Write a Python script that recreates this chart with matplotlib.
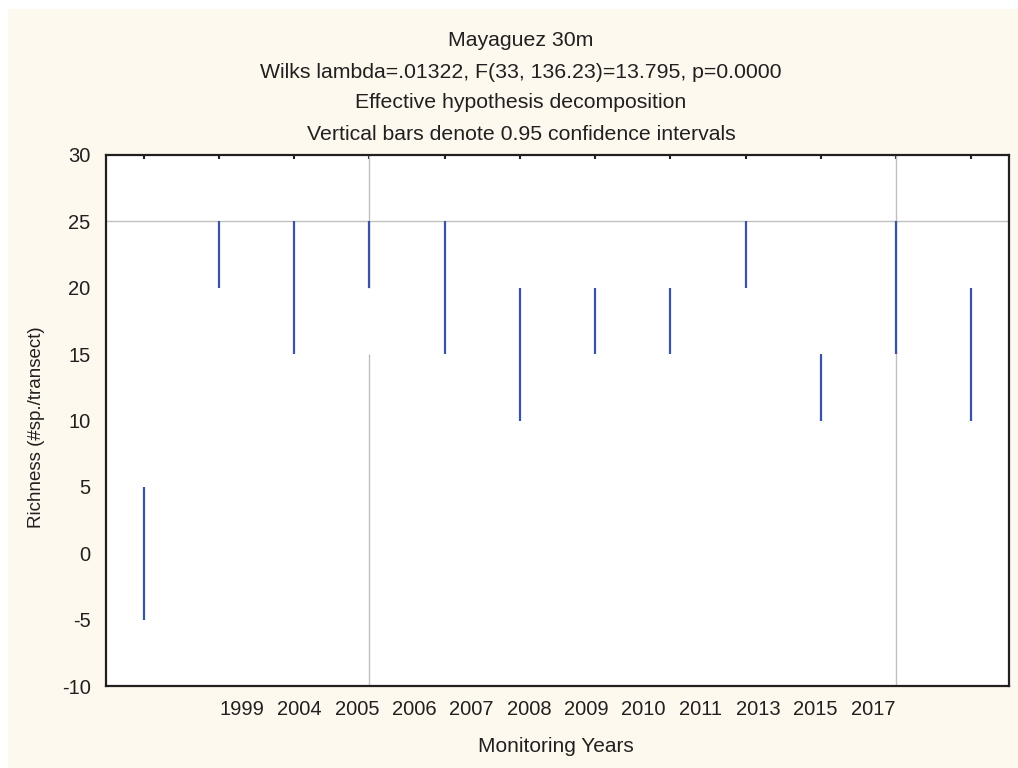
import matplotlib
matplotlib.use("Agg")
import matplotlib.pyplot as plt
from matplotlib.patches import Rectangle

plt.rcParams['font.family'] = ['Liberation Sans', 'DejaVu Sans']
plt.rcParams['axes.unicode_minus'] = False

# confidence interval ends, one bar per monitoring year
years = ['1999', '2004', '2005', '2006', '2007', '2008',
         '2009', '2010', '2011', '2013', '2015', '2017']
ci_low = [-5, 20, 15, 20, 15, 10, 15, 15, 20, 10, 15, 10]
ci_high = [5, 25, 25, 25, 25, 20, 20, 20, 25, 15, 25, 20]

title_lines = ['Mayaguez 30m',
               'Wilks lambda=.01322, F(33, 136.23)=13.795, p=0.0000',
               'Effective hypothesis decomposition',
               'Vertical bars denote 0.95 confidence intervals']

ink = '#231f20'
bar_col = '#3953a6'
grid_col = '#c0c0c0'

fig = plt.figure(figsize=(10.18, 7.68), dpi=100)
fig.patch.set_facecolor('white')
fig.patches.append(Rectangle((8 / 1018, 0), 1, 1 - 9 / 768, transform=fig.transFigure,
                             facecolor='#fef9ee', edgecolor='none', zorder=-10))

ax = fig.add_axes([106 / 1018, 1 - 686 / 768, 903 / 1018, 531 / 768])
ax.set_facecolor('white')

n = len(years)
xs = list(range(n))

# grid (the one at the 4th bar has a break, as in the original)
ax.axhline(25, color=grid_col, lw=1, zorder=1)
ax.vlines(3, 20, 30, color=grid_col, lw=1, zorder=1)
ax.vlines(3, -10, 15, color=grid_col, lw=1, zorder=1)
ax.vlines(10, -10, 30, color=grid_col, lw=1, zorder=1)

ax.vlines(xs, ci_low, ci_high, color=bar_col, lw=1.6, zorder=3)

ax.set_xlim(-0.5, n - 0.5)
ax.set_ylim(-10, 30)
ax.set_yticks(range(-10, 31, 5))
ax.tick_params(axis='y', length=0, pad=11, labelsize=14.5, labelcolor=ink)

# the year labels sit closer together than the bars
mid = (n - 1) / 2
lab_pos = [mid + (i - mid) * 0.762 for i in xs]
ax.set_xticks(lab_pos, years)
ax.tick_params(axis='x', length=0, pad=10, labelsize=14.5, labelcolor=ink)

top = ax.secondary_xaxis('top')
top.set_xticks(xs, [''] * n)
top.tick_params(direction='in', length=3, width=1.5, color=ink)
top.spines['top'].set_visible(False)

for s in ax.spines.values():
    s.set_color(ink)
    s.set_linewidth(1.6)

for i, t in enumerate(title_lines):
    fig.text(521 / 1018, 1 - (41 + i * 31) / 768, t, ha='center', va='center',
             fontsize=15.3, color=ink)

fig.text(37 / 1018, 1 - 427 / 768, 'Richness (#sp./transect)', rotation=90,
         ha='center', va='center', fontsize=13.5, color=ink)
fig.text(556 / 1018, 1 - 747 / 768, 'Monitoring Years', ha='center', va='center',
         fontsize=15, color=ink)

fig.savefig('out.png', dpi=100)
